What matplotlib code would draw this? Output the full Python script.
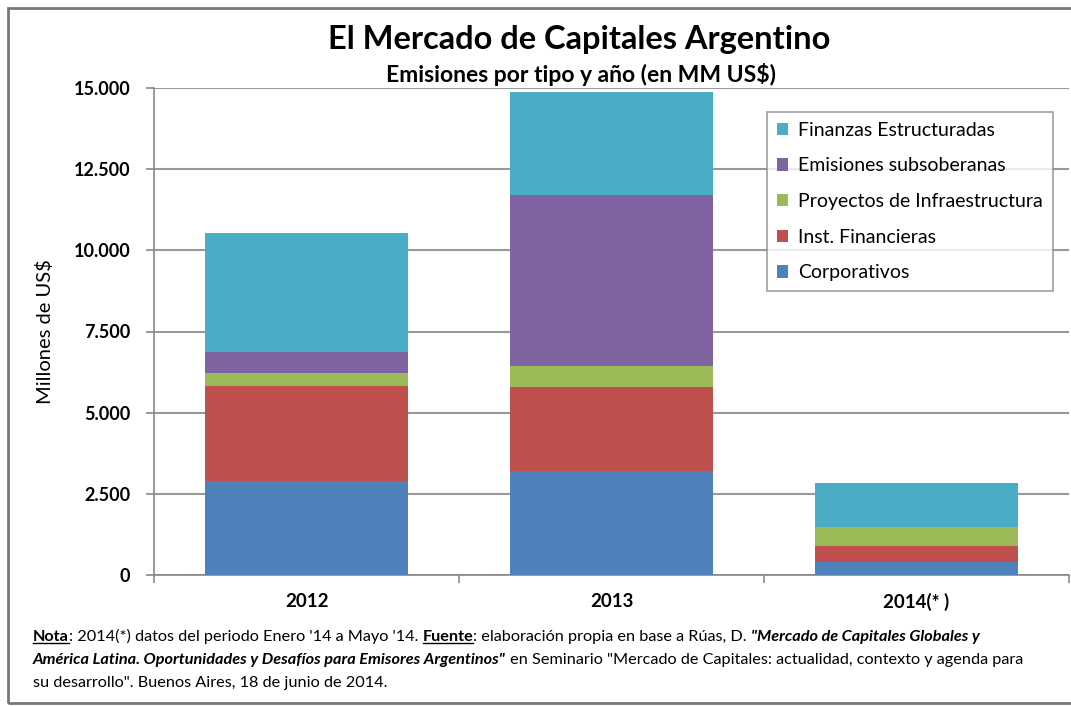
import numpy as np
import matplotlib
matplotlib.use('Agg')
import matplotlib.pyplot as plt
from matplotlib.patches import Rectangle
from matplotlib.lines import Line2D

# Data (millones de US$)
years = ['2012', '2013', '2014(* )']
series = ['Corporativos', 'Inst. Financieras', 'Proyectos de Infraestructura',
          'Emisiones subsoberanas', 'Finanzas Estructuradas']
corporativos = [2900, 3210, 390]
inst_financieras = [2930, 2580, 510]
infraestructura = [380, 660, 570]
subsoberanas = [670, 5240, 0]
finanzas_estruct = [3640, 3180, 1350]
colors = ['#4f81bd', '#c0504d', '#9bbb59', '#8064a2', '#4bacc6']
yticks = [0, 2500, 5000, 7500, 10000, 12500, 15000]
ytick_labels = ['0', '2.500', '5.000', '7.500', '10.000', '12.500', '15.000']

plt.rcParams['font.family'] = ['Lato', 'DejaVu Sans']

fig = plt.figure(figsize=(10.71, 7.06), dpi=100)
W, H = 1071, 706
ax = fig.add_axes([154 / W, 1 - 575 / H, (1069 - 154) / W, (575 - 88) / H])

x = np.arange(len(years))
bottom = np.zeros(len(years))
values = [corporativos, inst_financieras, infraestructura, subsoberanas, finanzas_estruct]
handles = []
for name, vals, c in zip(series, values, colors):
    b = ax.bar(x, vals, 0.667, bottom=bottom, color=c, label=name, zorder=3)
    handles.append(b)
    bottom += np.array(vals)

ax.set_xlim(-0.5, 2.5)
ax.set_ylim(0, 15000)
ax.set_yticks(yticks)
ax.set_yticklabels(ytick_labels, fontsize=13, fontweight='bold')
ax.set_xticks(x)
ax.set_xticklabels(years, fontsize=13.5, fontweight='bold')
ax.tick_params(axis='x', length=0, pad=13)
ax.tick_params(axis='y', length=6, color='#888888', width=1.2, pad=11)
# category boundary ticks on x axis
ax.set_xticks([-0.5, 0.5, 1.5, 2.5], minor=True)
ax.tick_params(axis='x', which='minor', length=6, color='#888888', width=1.2)
ax.grid(axis='y', color='#999999', linewidth=1.5, zorder=0)
for s in ['top', 'right']:
    ax.spines[s].set_visible(False)
for s in ['left', 'bottom']:
    ax.spines[s].set_color('#888888')
    ax.spines[s].set_linewidth(1.2)
ax.set_ylabel('Millones de US$', fontsize=14.5, labelpad=14)

leg = ax.legend(handles[::-1], series[::-1], loc='upper left',
                bbox_to_anchor=((767 - 154) / (1069 - 154), 1 - (112 - 88) / (575 - 88)),
                fontsize=14, frameon=True, fancybox=False, edgecolor='#888888',
                handlelength=0.6, handleheight=0.6, handletextpad=0.5,
                labelspacing=0.96, borderpad=0.5, borderaxespad=0)
leg.get_frame().set_linewidth(1.2)

fig.text(579 / W, 1 - 40 / H, 'El Mercado de Capitales Argentino', ha='center', va='center',
         fontsize=23.5, fontweight='bold')
fig.text(581 / W, 1 - 75 / H, 'Emisiones por tipo y año (en MM US$)', ha='center', va='center',
         fontsize=16.5, fontweight='bold')

# outer frame
fig.patches.append(Rectangle((8 / W, 1 - 703 / H), 1.1, (703 - 8) / H, transform=fig.transFigure,
                             fill=False, edgecolor='#777777', linewidth=2))

# footnote with mixed styles
fs = 11.7
lines = [
    [('Nota', 'bold', 'normal', True),
     (': 2014(*) datos del periodo Enero \'14 a Mayo \'14. ', 'normal', 'normal', False),
     ('Fuente', 'bold', 'normal', True),
     (': elaboración propia en base a Rúas, D. ', 'normal', 'normal', False),
     ('"Mercado de Capitales Globales y', 'bold', 'italic', False)],
    [('América Latina. Oportunidades y Desafíos para Emisores Argentinos"', 'bold', 'italic', False),
     (' en Seminario "Mercado de Capitales: actualidad, contexto y agenda para', 'normal', 'normal', False)],
    [('su desarrollo". Buenos Aires, 18 de junio de 2014.', 'normal', 'normal', False)],
]
line_y = [641, 664, 687]
fig.canvas.draw()
renderer = fig.canvas.get_renderer()
for runs, ly in zip(lines, line_y):
    xpos = 33
    for txt, weight, style, underline in runs:
        t = fig.text(xpos / W, 1 - ly / H, txt, ha='left', va='baseline', fontsize=fs,
                     fontweight=weight, fontstyle=style)
        bb = t.get_window_extent(renderer)
        if underline:
            fig.add_artist(Line2D([xpos / W, (xpos + bb.width) / W],
                                  [1 - (ly + 2) / H, 1 - (ly + 2) / H],
                                  transform=fig.transFigure, color='black', linewidth=1))
        xpos += bb.width

fig.savefig('out.png', dpi=100)
